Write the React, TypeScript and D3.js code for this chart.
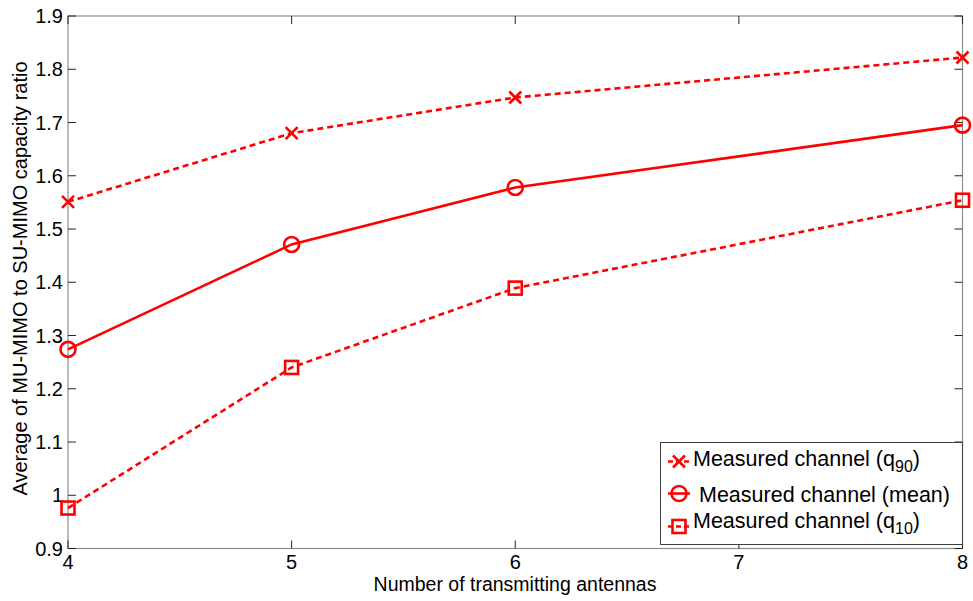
import React from "react";
import * as d3 from "d3";

const antennas = [4, 5, 6, 8];
const q90 = [1.551, 1.68, 1.747, 1.822];
const meanVals = [1.274, 1.471, 1.578, 1.695];
const q10 = [0.976, 1.24, 1.389, 1.554];

const xTicks = [4, 5, 6, 7, 8];
const yTicks = [0.9, 1.0, 1.1, 1.2, 1.3, 1.4, 1.5, 1.6, 1.7, 1.8, 1.9];
const yTickLabels = ["0.9", "1", "1.1", "1.2", "1.3", "1.4", "1.5", "1.6", "1.7", "1.8", "1.9"];

const W = 973;
const H = 601;
const L = 68, R = 962.5, T = 16, B = 548.5;
const RED = "#ff0000";
const FONT = "'Liberation Sans', Arial, sans-serif";

type Marker = "x" | "o" | "s";

function MarkerShape({ kind, cx, cy }: { kind: Marker; cx: number; cy: number }) {
  if (kind === "x") {
    const s = 6;
    return (
      <path
        d={`M${cx - s},${cy - s}L${cx + s},${cy + s}M${cx - s},${cy + s}L${cx + s},${cy - s}`}
        stroke={RED}
        strokeWidth={2.6}
        fill="none"
      />
    );
  }
  if (kind === "o") {
    return <circle cx={cx} cy={cy} r={7.5} stroke={RED} strokeWidth={2.6} fill="none" />;
  }
  return <rect x={cx - 6.5} y={cy - 6.5} width={13} height={13} stroke={RED} strokeWidth={2.6} fill="none" />;
}

export default function App() {
  const x = d3.scaleLinear().domain([4, 8]).range([L, R]);
  const y = d3.scaleLinear().domain([0.9, 1.9]).range([B, T]);

  const series: { vals: number[]; dash?: string; marker: Marker }[] = [
    { vals: q90, dash: "6,4", marker: "x" },
    { vals: meanVals, marker: "o" },
    { vals: q10, dash: "6,4", marker: "s" },
  ];

  const line = d3
    .line<number>()
    .x((_, i) => x(antennas[i]))
    .y((d) => y(d));

  const tickLen = 8;
  const axisGray = "#8c8c8c";
  const tickCol = "#262626";

  const legend = [
    { marker: "x" as Marker, dash: "6,4", label: "Measured channel (q", sub: "90", my: 461.5, ty: 465.5, tx: 693 },
    { marker: "o" as Marker, dash: undefined, label: "Measured channel (mean)", sub: "", my: 493.5, ty: 501.5, tx: 699 },
    { marker: "s" as Marker, dash: "6,4", label: "Measured channel (q", sub: "10", my: 526.5, ty: 527.5, tx: 693 },
  ];

  return (
    <svg
      width={W}
      height={H}
      style={{ position: "absolute", left: 0, top: 0, background: "#fff" }}
      fontFamily={FONT}
    >
      <rect x={0} y={0} width={W} height={H} fill="#fff" />
      {/* box */}
      <rect x={L} y={T} width={R - L} height={B - T} fill="none" stroke={axisGray} strokeWidth={1.2} />
      {/* x ticks */}
      {xTicks.map((t) => (
        <g key={"xt" + t}>
          <line x1={x(t)} x2={x(t)} y1={B} y2={B - tickLen} stroke={tickCol} strokeWidth={1} />
          <line x1={x(t)} x2={x(t)} y1={T} y2={T + tickLen} stroke={tickCol} strokeWidth={1} />
          <text x={x(t)} y={569} textAnchor="middle" fontSize={20} fill="#000">
            {t}
          </text>
        </g>
      ))}
      {/* y ticks */}
      {yTicks.map((t, i) => (
        <g key={"yt" + i}>
          <line x1={L} x2={L + tickLen} y1={y(t)} y2={y(t)} stroke={tickCol} strokeWidth={1} />
          <line x1={R} x2={R - tickLen} y1={y(t)} y2={y(t)} stroke={tickCol} strokeWidth={1} />
          <text x={63} y={y(t) + 7} textAnchor="end" fontSize={20} fill="#000">
            {yTickLabels[i]}
          </text>
        </g>
      ))}
      {/* axis titles */}
      <text x={515} y={591} textAnchor="middle" fontSize={19.5} fill="#000">
        Number of transmitting antennas
      </text>
      <text
        transform={`translate(27,${278.5}) rotate(-90)`}
        textAnchor="middle"
        fontSize={20}
        fill="#000"
      >
        Average of MU-MIMO to SU-MIMO capacity ratio
      </text>
      {/* lines */}
      {series.map((s, si) => (
        <g key={"s" + si}>
          <path d={line(s.vals) || ""} fill="none" stroke={RED} strokeWidth={2.6} strokeDasharray={s.dash} />
          {s.vals.map((v, i) => (
            <MarkerShape key={i} kind={s.marker} cx={x(antennas[i])} cy={y(v)} />
          ))}
        </g>
      ))}
      {/* legend */}
      <rect x={660.5} y={442.5} width={302} height={102} fill="#fff" stroke="#404040" strokeWidth={1} />
      {legend.map((l, i) => (
        <g key={"lg" + i}>
          <line x1={668} x2={690} y1={l.my} y2={l.my} stroke={RED} strokeWidth={2.6} strokeDasharray={l.dash ? "5,3" : undefined} />
          <MarkerShape kind={l.marker} cx={679} cy={l.my} />
          <text x={l.tx} y={l.ty} fontSize={21.5} fill="#000">
            {l.label}
            {l.sub ? (
              <>
                <tspan fontSize={16} dy={6}>{l.sub}</tspan>
                <tspan dy={-6}>)</tspan>
              </>
            ) : null}
          </text>
        </g>
      ))}
    </svg>
  );
}
